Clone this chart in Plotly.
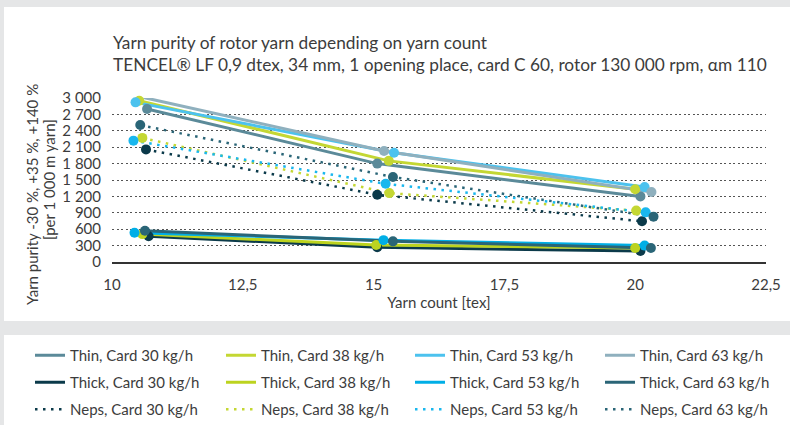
import plotly.graph_objects as go

# ---------------- data ----------------
thin30_x = [10.67, 15.07, 20.10]; thin30_y = [2800, 1800, 1200]
thin38_x = [10.52, 15.29, 20.00]; thin38_y = [2950, 1850, 1330]
thin53_x = [10.45, 15.39, 20.18]; thin53_y = [2920, 2000, 1370]
thin63_x = [10.60, 15.20, 20.31]; thin63_y = [3010, 2030, 1280]

thick30_x = [10.70, 15.07, 20.10]; thick30_y = [470, 270, 200]
thick38_x = [10.58, 15.05, 20.00]; thick38_y = [510, 310, 255]
thick53_x = [10.43, 15.19, 20.18]; thick53_y = [536, 400, 300]
thick63_x = [10.63, 15.37, 20.30]; thick63_y = [572, 378, 256]

neps30_x = [10.65, 15.07, 20.13]; neps30_y = [2060, 1230, 745]
neps38_x = [10.58, 15.30, 20.02]; neps38_y = [2270, 1260, 940]
neps53_x = [10.41, 15.23, 20.20]; neps53_y = [2220, 1430, 908]
neps63_x = [10.54, 15.37, 20.35]; neps63_y = [2505, 1555, 830]

x_tickvals = [10, 12.5, 15, 17.5, 20, 22.5]
x_ticktext = ["10", "12,5", "15", "17,5", "20", "22,5"]
y_tickvals = [0, 300, 600, 900, 1200, 1500, 1800, 2100, 2400, 2700, 3000]
y_ticktext = ["0", "300", "600", "900", "1 200", "1 500", "1 800", "2 100", "2 400", "2 700", "3 000"]

title_text = ("Yarn purity of rotor yarn depending on yarn count<br>"
              "TENCEL® LF 0,9 dtex, 34 mm, 1 opening place, card C 60, rotor 130 000 rpm, αm 110")
ytitle_1 = "Yarn purity -30 %, +35 %, +140 %"
ytitle_2 = "[per 1 000 m yarn]"
xtitle = "Yarn count [tex]"

FONT = "Lato"
TXT = "#3c3c3c"
DOT = "2.5px,5.5px"

series = [
    # name, x, y, color, dash, legend (one legend per card column)
    ("Thin, Card 30 kg/h", thin30_x, thin30_y, "#5b8a99", "solid", "legend"),
    ("Thick, Card 30 kg/h", thick30_x, thick30_y, "#0b3a4a", "solid", "legend"),
    ("Neps, Card 30 kg/h", neps30_x, neps30_y, "#0b3a4a", DOT, "legend"),
    ("Thin, Card 38 kg/h", thin38_x, thin38_y, "#c4d733", "solid", "legend2"),
    ("Thick, Card 38 kg/h", thick38_x, thick38_y, "#bcd31f", "solid", "legend2"),
    ("Neps, Card 38 kg/h", neps38_x, neps38_y, "#c4d733", DOT, "legend2"),
    ("Thin, Card 53 kg/h", thin53_x, thin53_y, "#4cc2ee", "solid", "legend3"),
    ("Thick, Card 53 kg/h", thick53_x, thick53_y, "#00aee6", "solid", "legend3"),
    ("Neps, Card 53 kg/h", neps53_x, neps53_y, "#19b7ee", DOT, "legend3"),
    ("Thin, Card 63 kg/h", thin63_x, thin63_y, "#8fb0be", "solid", "legend4"),
    ("Thick, Card 63 kg/h", thick63_x, thick63_y, "#2a6577", "solid", "legend4"),
    ("Neps, Card 63 kg/h", neps63_x, neps63_y, "#2a6577", DOT, "legend4"),
]

fig = go.Figure()
for name, xs, ys, col, dash, leg in series:
    fig.add_trace(go.Scatter(
        x=xs, y=ys, mode="lines", name=name, legendgroup=name, legend=leg,
        line=dict(color=col, width=3 if dash == "solid" else 2.5, dash=dash),
        cliponaxis=False,
    ))
for name, xs, ys, col, dash, leg in series:
    fig.add_trace(go.Scatter(
        x=xs, y=ys, mode="markers", name=name, legendgroup=name, showlegend=False,
        marker=dict(color=col, size=10), cliponaxis=False,
    ))

L, R, T, B = 112, 24, 98, 163
W, H = 790, 425
pw, ph = W - L - R, H - T - B
def px(xp): return (xp - L) / pw
def py(yp): return (H - B - yp) / ph

shapes = [
    dict(type="rect", xref="paper", yref="paper", x0=px(4), x1=px(795), y0=py(7), y1=py(321),
         fillcolor="white", line=dict(width=0), layer="below"),
    dict(type="rect", xref="paper", yref="paper", x0=px(4), x1=px(795), y0=py(335), y1=py(430),
         fillcolor="white", line=dict(width=0), layer="below"),
]

annotations = [
    dict(text=ytitle_1, xref="paper", yref="paper", x=px(32), y=py(195), textangle=-90,
         showarrow=False, xanchor="center", yanchor="middle",
         font=dict(family=FONT, size=15, color=TXT)),
    dict(text=ytitle_2, xref="paper", yref="paper", x=px(49), y=py(180), textangle=-90,
         showarrow=False, xanchor="center", yanchor="middle",
         font=dict(family=FONT, size=15, color=TXT)),
]

def leg(xpix):
    return dict(orientation="v", xref="container", yref="container",
                xanchor="left", yanchor="top", x=xpix / W, y=1 - 339 / H,
                font=dict(family=FONT, size=15, color=TXT), bgcolor="rgba(0,0,0,0)",
                tracegroupgap=4.5, itemwidth=30, traceorder="grouped")

fig.update_layout(
    width=W, height=H,
    margin=dict(l=L, r=R, t=T, b=B, autoexpand=False),
    paper_bgcolor="#e5e6e7", plot_bgcolor="white",
    font=dict(family=FONT, color=TXT),
    shapes=shapes,
    annotations=annotations,
    title=dict(text=title_text,
               x=113 / W, xanchor="left", xref="container", yref="container",
               y=1 - 49 / H, yanchor="top",
               font=dict(family=FONT, size=17.3, color=TXT)),
    xaxis=dict(range=[10, 22.5], tickvals=x_tickvals, ticktext=x_ticktext, showgrid=False,
               showline=True, linecolor="#333333", linewidth=2, zeroline=False, automargin=False,
               tickfont=dict(family=FONT, size=15, color=TXT), ticks="", ticklabelstandoff=8,
               title=dict(text=xtitle, font=dict(family=FONT, size=15, color=TXT), standoff=4)),
    yaxis=dict(range=[0, 3000], tickvals=y_tickvals, ticktext=y_ticktext, showgrid=True,
               gridcolor="#555555", gridwidth=1, griddash="2px,2.5px", zeroline=False, showline=False,
               automargin=False,
               tickfont=dict(family=FONT, size=15, color=TXT), ticks="", ticklabelstandoff=10),
    legend=leg(30),
    legend2=leg(221),
    legend3=leg(410),
    legend4=leg(600),
    showlegend=True,
)

fig.write_html("out.html", config={"displayModeBar": False},
               post_script="document.body.style.margin='0';document.body.style.background='#e5e6e7';")
